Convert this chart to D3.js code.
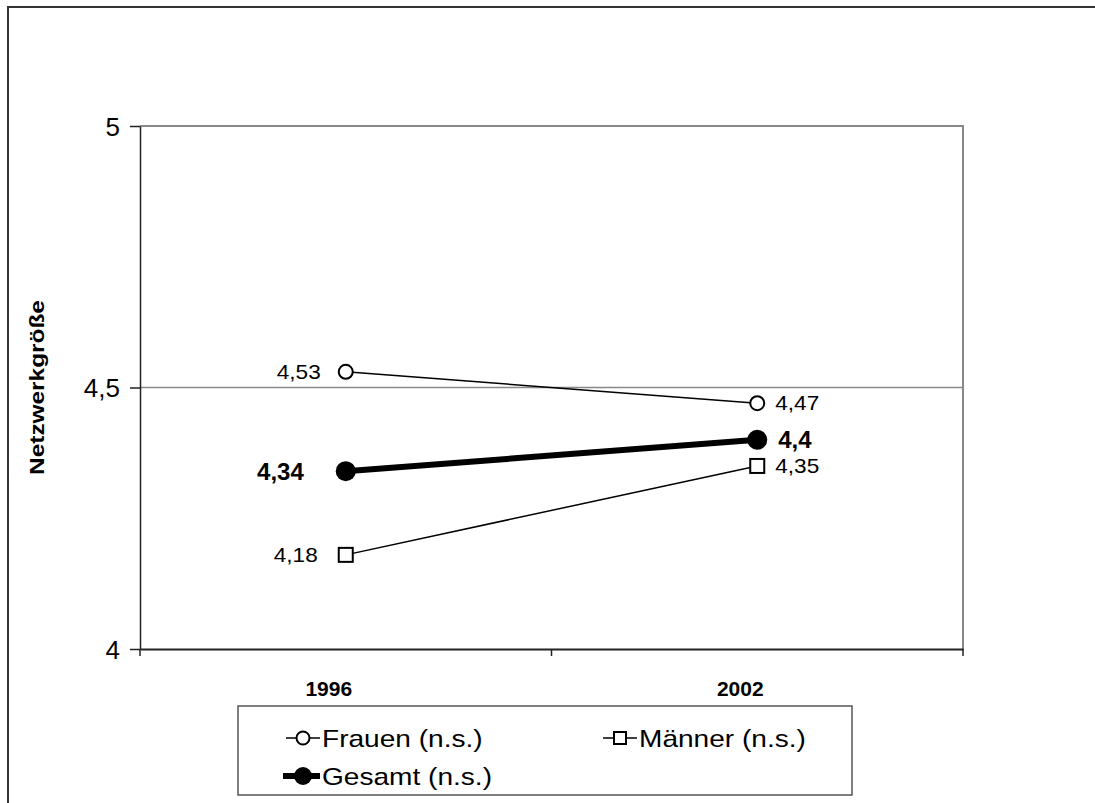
<!DOCTYPE html>
<html><head><meta charset="utf-8">
<script src="https://cdn.jsdelivr.net/npm/d3@7"></script>
<style>body{margin:0;background:#fff}svg{display:block;font-family:Arial,"Liberation Sans",sans-serif}</style>
</head><body>
<svg id="c" width="1095" height="803"></svg>
<script>
const categories = ["1996", "2002"];
const frauen = [4.53, 4.47];
const maenner = [4.18, 4.35];
const gesamt = [4.34, 4.4];
const yTicks = [4, 4.5, 5];
const yTickLabels = ["4", "4,5", "5"];
const seriesNames = ["Frauen (n.s.)", "Männer (n.s.)", "Gesamt (n.s.)"];
const yTitle = "Netzwerkgröße";

const FONT = "Arial, 'Liberation Sans', sans-serif";
const svg = d3.select("#c");
const L = 140, R = 963, T = 126, B = 649;
const x = d3.scaleBand().domain(categories).range([L, R]);
const y = d3.scaleLinear().domain([4, 5]).range([B, T]);
const fmt = v => String(v).replace(".", ",");
// horizontal stretch of text about its anchor x
const stretch = (sel, s) => sel.each(function () {
  const ax = +this.getAttribute("x") || 0;
  this.setAttribute("transform", `translate(${ax},0) scale(${s},1) translate(${-ax},0)`);
});

svg.append("path").attr("d", `M8,803 V7 H1095`).attr("fill", "none").attr("stroke", "#333").attr("stroke-width", 2);

svg.append("path").attr("d", `M${L},${T} H${R} V${B}`).attr("fill", "none").attr("stroke", "#888").attr("stroke-width", 2);
svg.append("line").attr("x1", L).attr("x2", R).attr("y1", y(4.5)).attr("y2", y(4.5)).attr("stroke", "#888").attr("stroke-width", 1.5);

const ya = svg.append("g").attr("transform", `translate(${L},0)`)
  .call(d3.axisLeft(y).tickValues(yTicks).tickFormat((d, i) => yTickLabels[i]).tickSize(10).tickSizeOuter(0));
ya.select(".domain").attr("stroke", "#222").attr("stroke-width", 1.5);
ya.selectAll(".tick line").attr("stroke", "#222").attr("stroke-width", 1.5);
ya.selectAll(".tick text").attr("font-size", 26).attr("fill", "#000").attr("font-family", FONT).attr("x", -20).attr("dy", "0.36em");

const xa = svg.append("g").attr("transform", `translate(0,${B})`)
  .call(d3.axisBottom(x).tickSize(0).tickSizeOuter(0));
xa.select(".domain").attr("stroke", "#222").attr("stroke-width", 2);
xa.selectAll(".tick text").attr("font-size", 21).attr("font-weight", "bold").attr("fill", "#000")
  .attr("font-family", FONT).attr("dy", "0.36em").attr("y", 39).attr("x", -17);
const bounds = [L, ...categories.slice(1).map(c => x(c)), R];
svg.selectAll(".xt").data(bounds).enter().append("line")
  .attr("x1", d => d).attr("x2", d => d).attr("y1", B).attr("y2", B + 7).attr("stroke", "#222").attr("stroke-width", 1.5);

svg.append("text").attr("transform", `translate(37,${y(4.5)}) rotate(-90) scale(1.22,1)`).attr("text-anchor", "middle")
  .attr("dy", "0.36em").attr("font-size", 20).attr("font-weight", "bold").text(yTitle);

const cx = c => x(c) + x.bandwidth() / 2;
const line = d3.line().x((d, i) => cx(categories[i])).y(d => y(d));

svg.append("path").datum(frauen).attr("d", line).attr("fill", "none").attr("stroke", "#000").attr("stroke-width", 1.5);
svg.append("path").datum(maenner).attr("d", line).attr("fill", "none").attr("stroke", "#000").attr("stroke-width", 1.5);
svg.append("path").datum(gesamt).attr("d", line).attr("fill", "none").attr("stroke", "#000").attr("stroke-width", 6);

svg.selectAll(".fm").data(frauen).enter().append("circle")
  .attr("cx", (d, i) => cx(categories[i])).attr("cy", d => y(d)).attr("r", 7)
  .attr("fill", "#fff").attr("stroke", "#000").attr("stroke-width", 2);
svg.selectAll(".mm").data(maenner).enter().append("rect")
  .attr("x", (d, i) => cx(categories[i]) - 7).attr("y", d => y(d) - 7).attr("width", 14).attr("height", 14)
  .attr("fill", "#fff").attr("stroke", "#000").attr("stroke-width", 2);
svg.selectAll(".gm").data(gesamt).enter().append("circle")
  .attr("cx", (d, i) => cx(categories[i])).attr("cy", d => y(d)).attr("r", 10).attr("fill", "#000");

function labels(data, size, weight, offL, offR, s) {
  data.forEach((d, i) => {
    const left = i === 0;
    const t = svg.append("text").attr("x", cx(categories[i]) + (left ? -offL : offR)).attr("y", y(d))
      .attr("dy", "0.36em").attr("text-anchor", left ? "end" : "start")
      .attr("font-size", size).attr("font-weight", weight).text(fmt(d));
    stretch(t, s);
  });
}
labels(frauen, 20, "normal", 25, 18, 1.13);
labels(maenner, 20, "normal", 28, 18, 1.13);
labels(gesamt, 24, "bold", 42, 21, 1);

const lg = svg.append("g");
lg.append("rect").attr("x", 238).attr("y", 706).attr("width", 614).attr("height", 89)
  .attr("fill", "#fff").attr("stroke", "#555").attr("stroke-width", 1.5);
const items = [
  {name: seriesNames[0], xs: 286, xe: 320, mid: 303, y: 738, type: "circle"},
  {name: seriesNames[1], xs: 603, xe: 637, mid: 620, y: 738, type: "square"},
  {name: seriesNames[2], xs: 283, xe: 320, mid: 303, y: 776, type: "fill"}
];
items.forEach(it => {
  const g = lg.append("g");
  g.append("line").attr("x1", it.xs).attr("x2", it.xe).attr("y1", it.y).attr("y2", it.y)
    .attr("stroke", "#000").attr("stroke-width", it.type === "fill" ? 6 : 1.5);
  if (it.type === "circle") g.append("circle").attr("cx", it.mid).attr("cy", it.y).attr("r", 6.5).attr("fill", "#fff").attr("stroke", "#000").attr("stroke-width", 2);
  if (it.type === "square") g.append("rect").attr("x", it.mid - 6).attr("y", it.y - 6).attr("width", 12).attr("height", 12).attr("fill", "#fff").attr("stroke", "#000").attr("stroke-width", 2);
  if (it.type === "fill") g.append("circle").attr("cx", it.mid).attr("cy", it.y).attr("r", 9).attr("fill", "#000");
  const t = g.append("text").attr("x", it.xe + 2).attr("y", it.y).attr("dy", "0.36em").attr("font-size", 24).text(it.name);
  stretch(t, 1.17);
});
</script>
</body></html>
